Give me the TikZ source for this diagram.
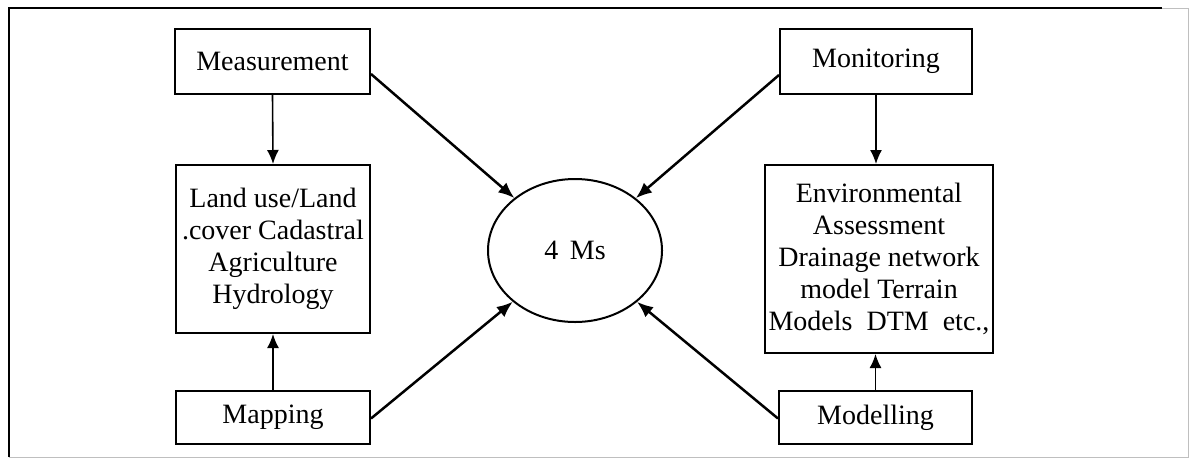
\documentclass[tikz,border=0pt]{standalone}
\usepackage{fontspec}
\setmainfont{Liberation Serif}
\usetikzlibrary{shapes.geometric,arrows.meta}
\begin{document}
\begin{tikzpicture}[x=1pt,y=-1pt,
  box/.style={draw,line width=2pt,inner sep=0pt,align=center,
    font=\fontsize{28}{32}\selectfont},
  diag/.style={line width=2.5pt,-{Latex[length=16pt,width=13pt]}},
  vert/.style={line width=1.6pt,-{Latex[length=14pt,width=12pt]}}]
\useasboundingbox (0,0) rectangle (1190,459);
% frame
\draw[line width=2.5pt] (9,457) -- (9,8) -- (1162,8);
\draw[line width=1pt,black!25] (1162,8) -- (1188,8) -- (1188,457) -- (9,457);
% nodes
\node[box,minimum width=195pt,minimum height=65pt] (meas) at (272.5,61.5) {Measurement};
\node[box,minimum width=194pt,minimum height=168pt] (land) at (273,249) {Land use/Land\\.cover Cadastral\\Agriculture\\Hydrology};
\node[box,minimum width=194pt,minimum height=53pt] (map) at (273,417.5) {Mapping};
\node[box,minimum width=192pt,minimum height=65pt] (mon) at (876,61.5) {Monitoring};
\node[box,minimum width=228pt,minimum height=188pt] (env) at (879,259) {Environmental\\Assessment\\Drainage network\\model Terrain\\Models\ \ DTM\ \ etc.,};
\node[box,minimum width=193pt,minimum height=53pt] (mod) at (875.5,417.5) {Modelling};
\node[draw,ellipse,line width=2pt,inner sep=0pt,minimum width=174pt,minimum height=143pt,
  font=\fontsize{28}{32}\selectfont] (ms) at (575,250.5) {4\ \,Ms};
% connectors
\draw[vert] (meas.south) -- (land.north);
\draw[vert] (map.north) -- (land.south);
\draw[vert] (mon.south) -- (mon.south |- env.north);
\draw[vert] (mod.north) -- (mod.north |- env.south);
\draw[diag] ([yshift=-12.5pt]meas.east) -- (ms);
\draw[diag] ([yshift=-13.5pt]mon.west) -- (ms);
\draw[diag] ([yshift=-1pt]map.east) -- (ms);
\draw[diag] ([yshift=-1pt]mod.west) -- (ms);
\end{tikzpicture}
\end{document}
